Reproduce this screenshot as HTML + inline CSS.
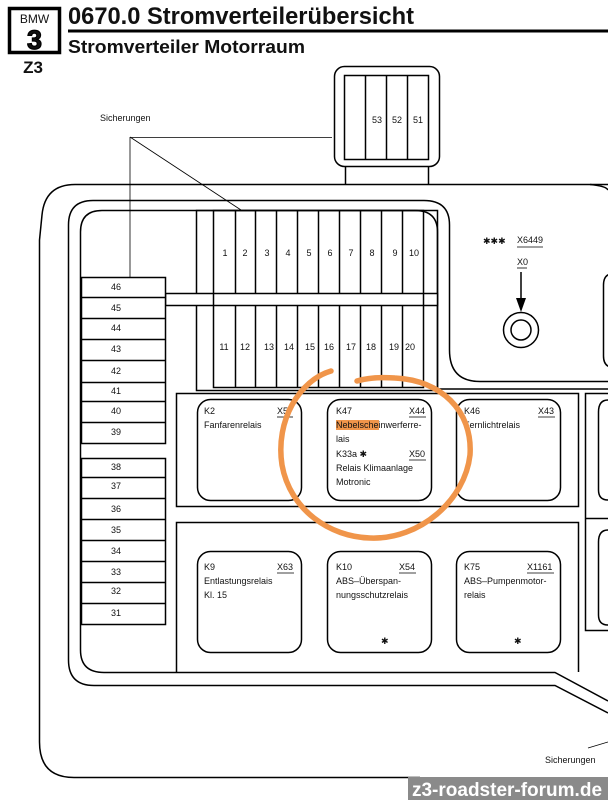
<!DOCTYPE html>
<html><head><meta charset="utf-8"><style>
html,body{margin:0;padding:0;background:#fff;}
svg{display:block;}
text{font-family:"Liberation Sans",sans-serif;fill:#111;}
</style></head><body>
<svg width="608" height="800" viewBox="0 0 608 800" xmlns="http://www.w3.org/2000/svg">
<!-- header -->
<rect x="9.5" y="8.5" width="50" height="44" fill="none" stroke="#000" stroke-width="3.5"/>
<text x="34.5" y="23" font-size="12" text-anchor="middle">BMW</text>
<text x="34.5" y="49" font-size="27" font-weight="bold" text-anchor="middle" stroke="#000" stroke-width="1.2">3</text>
<text x="33" y="73" font-size="17" font-weight="bold" text-anchor="middle">Z3</text>
<text x="68" y="24" font-size="24" font-weight="bold" textLength="346" lengthAdjust="spacingAndGlyphs">0670.0 Stromverteilerübersicht</text>
<rect x="68" y="29.5" width="540" height="3" fill="#000"/>
<text x="68" y="53" font-size="18.5" font-weight="bold" textLength="237" lengthAdjust="spacingAndGlyphs">Stromverteiler Motorraum</text>

<g fill="none" stroke="#000" stroke-width="1.5">
<rect x="334.5" y="66.5" width="105" height="100" rx="10"/>
<rect x="344.5" y="75.5" width="84" height="84"/>
<line x1="365.5" y1="75" x2="365.5" y2="160"/>
<line x1="386.5" y1="75" x2="386.5" y2="160"/>
<line x1="407.5" y1="75" x2="407.5" y2="160"/>
<line x1="345.5" y1="167" x2="345.5" y2="184"/>
<line x1="428.5" y1="167" x2="428.5" y2="184"/>
<path d="M608,184.5 H75 Q45,184.5 42,215 L39.5,240 V742 Q39.5,777.5 74,777.5 H420"/>
<path d="M68.5,660 V225 Q68.5,200.5 93,200.5 H424 Q449.5,200.5 449.5,225 V350 Q449.5,381.5 480,381.5 H608"/>
<path d="M68.5,660 Q68.5,685.5 94,685.5 H555 L608,713"/>
<path d="M80.5,650 V232 Q80.5,210.5 102,210.5 H415 Q437.5,210.5 437.5,232 V389"/>
<path d="M80.5,650 Q80.5,672.5 104,672.5 H555 L608,701"/>
<line x1="437" y1="389" x2="608" y2="389"/>
<path d="M590,184.5 Q606,186 608,190"/>
<path d="M614,273.5 Q603.5,273.5 603.5,285 V356 Q603.5,367.5 614,367.5"/>
<circle cx="521" cy="330" r="17.5"/>
<circle cx="521" cy="330" r="10"/>
<rect x="196.5" y="210.5" width="241" height="180"/>
<rect x="165.5" y="293.5" width="272" height="12" fill="#fff"/>
<rect x="213.5" y="210.5" width="210" height="177"/>
<g>
<line x1="235.5" y1="210" x2="235.5" y2="293"/><line x1="255.5" y1="210" x2="255.5" y2="293"/>
<line x1="276.5" y1="210" x2="276.5" y2="293"/><line x1="297.5" y1="210" x2="297.5" y2="293"/>
<line x1="318.5" y1="210" x2="318.5" y2="293"/><line x1="339.5" y1="210" x2="339.5" y2="293"/>
<line x1="360.5" y1="210" x2="360.5" y2="293"/><line x1="381.5" y1="210" x2="381.5" y2="293"/>
<line x1="402.5" y1="210" x2="402.5" y2="293"/>
<line x1="235.5" y1="305" x2="235.5" y2="388"/><line x1="255.5" y1="305" x2="255.5" y2="388"/>
<line x1="276.5" y1="305" x2="276.5" y2="388"/><line x1="297.5" y1="305" x2="297.5" y2="388"/>
<line x1="318.5" y1="305" x2="318.5" y2="388"/><line x1="339.5" y1="305" x2="339.5" y2="388"/>
<line x1="360.5" y1="305" x2="360.5" y2="388"/><line x1="381.5" y1="305" x2="381.5" y2="388"/>
<line x1="402.5" y1="305" x2="402.5" y2="388"/>
</g>
<rect x="81.5" y="277.5" width="84" height="166" fill="#fff"/>
<path d="M81,297.5H166M81,318.5H166M81,339.5H166M81,360.5H166M81,382.5H166M81,401.5H166M81,422.5H166"/>
<rect x="81.5" y="458.5" width="84" height="166"/>
<path d="M81,477.5H166M81,498.5H166M81,519.5H166M81,540.5H166M81,561.5H166M81,582.5H166M81,603.5H166"/>
<rect x="176.5" y="393.5" width="402" height="113"/>
<path d="M176.5,672 V522.5 H578.5 V672"/>
<path d="M608,393.5 H585.5 V630.5 H608 M585.5,518.5 H608"/>
<path d="M608,400 Q598.5,400 598.5,412 V490 Q598.5,500 608,500"/>
<path d="M608,530 Q598.5,530 598.5,542 V615 Q598.5,625 608,625"/>
<rect x="197.5" y="399.5" width="104" height="101" rx="13"/>
<rect x="327.5" y="399.5" width="104" height="101" rx="13"/>
<rect x="456.5" y="399.5" width="104" height="101" rx="13"/>
<rect x="197.5" y="551.5" width="104" height="101" rx="13"/>
<rect x="327.5" y="551.5" width="104" height="101" rx="13"/>
<rect x="456.5" y="551.5" width="104" height="101" rx="13"/>
</g>
<g stroke="#000" stroke-width="0.8" fill="none">
<path d="M130,137.5 H332 M130,137 V277 M130,137 L241,210"/>
<path d="M588,748 L608,742"/>
</g>
<line x1="521" y1="272" x2="521" y2="300" stroke="#000" stroke-width="1.5"/>
<polygon points="516,298 526,298 521,312" fill="#000"/>

<g font-size="9" text-anchor="middle">
<text x="377" y="123">53</text><text x="397" y="123">52</text><text x="418" y="123">51</text>
<text x="225" y="256">1</text><text x="245" y="256">2</text><text x="267" y="256">3</text><text x="288" y="256">4</text><text x="309" y="256">5</text><text x="330" y="256">6</text><text x="351" y="256">7</text><text x="372" y="256">8</text><text x="395" y="256">9</text><text x="414" y="256">10</text>
<text x="224" y="350">11</text><text x="245" y="350">12</text><text x="269" y="350">13</text><text x="289" y="350">14</text><text x="310" y="350">15</text><text x="329" y="350">16</text><text x="351" y="350">17</text><text x="371" y="350">18</text><text x="394" y="350">19</text><text x="410" y="350">20</text>
<text x="116" y="290">46</text><text x="116" y="311">45</text><text x="116" y="331">44</text><text x="116" y="352">43</text><text x="116" y="374">42</text><text x="116" y="394">41</text><text x="116" y="414">40</text><text x="116" y="435">39</text>
<text x="116" y="470">38</text><text x="116" y="489">37</text><text x="116" y="512">36</text><text x="116" y="533">35</text><text x="116" y="554">34</text><text x="116" y="575">33</text><text x="116" y="594">32</text><text x="116" y="616">31</text>
</g>
<g font-size="9">
<text x="100" y="121">Sicherungen</text>
<text x="545" y="763">Sicherungen</text>
<text x="483" y="244" fill="#555">✱✱✱</text>
<text x="517" y="243">X6449</text>
<text x="517" y="265">X0</text>
<rect x="336" y="420" width="43" height="10" fill="#f0954a"/>
<text x="204" y="414">K2</text><text x="277" y="414">X5</text>
<text x="204" y="428">Fanfarenrelais</text>
<text x="336" y="414">K47</text><text x="409" y="414">X44</text>
<text x="336" y="428">Nebelscheinwerferre-</text>
<text x="336" y="442">lais</text>
<text x="336" y="457">K33a  ✱</text><text x="409" y="457">X50</text>
<text x="336" y="471">Relais Klimaanlage</text>
<text x="336" y="485">Motronic</text>
<text x="464" y="414">K46</text><text x="538" y="414">X43</text>
<text x="464" y="428">Fernlichtrelais</text>
<text x="204" y="570">K9</text><text x="277" y="570">X63</text>
<text x="204" y="584">Entlastungsrelais</text>
<text x="204" y="598">Kl. 15</text>
<text x="336" y="570">K10</text><text x="399" y="570">X54</text>
<text x="336" y="584">ABS–Überspan-</text>
<text x="336" y="598">nungsschutzrelais</text>
<text x="381" y="644">✱</text>
<text x="464" y="570">K75</text><text x="527" y="570">X1161</text>
<text x="464" y="584">ABS–Pumpenmotor-</text>
<text x="464" y="598">relais</text>
<text x="514" y="644">✱</text>
</g>
<g stroke="#000" stroke-width="0.8">
<line x1="517" y1="247" x2="543" y2="247"/><line x1="517" y1="268" x2="527" y2="268"/>
<line x1="277" y1="417" x2="293" y2="417"/><line x1="409" y1="417" x2="426" y2="417"/>
<line x1="409" y1="460" x2="426" y2="460"/><line x1="538" y1="417" x2="555" y2="417"/>
<line x1="277" y1="573" x2="294" y2="573"/><line x1="399" y1="573" x2="416" y2="573"/>
<line x1="527" y1="573" x2="554" y2="573"/>
</g>
<path d="M331,371 C300,380 275,420 282,465 C290,510 330,537 370,538 C420,540 465,500 470,455 C473,410 440,380 395,378 C380,377 367,378 357,381" fill="none" stroke="#f0954a" stroke-width="5.5" stroke-linecap="round"/>
<rect x="408" y="777" width="200" height="23" fill="#8a8a8a"/>
<text x="507" y="796" font-size="19" font-weight="bold" text-anchor="middle" style="fill:#fff">z3-roadster-forum.de</text>
</svg>
</body></html>
